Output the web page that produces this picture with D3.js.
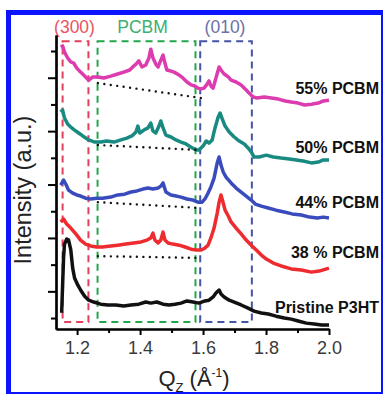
<!DOCTYPE html>
<html>
<head>
<meta charset="utf-8">
<script src="https://cdn.jsdelivr.net/npm/d3@7"></script>
<style>
  body { margin: 0; background: #fff; }
  svg { display: block; font-family: "Liberation Sans", Arial, sans-serif; }
</style>
</head>
<body>
<svg width="383" height="395"></svg>
<script>
// ---- data: [Qz (1/A), intensity (a.u., offset per sample)]
const pcbm55 = [
  [1.148, 10.15], [1.154, 10.19], [1.160, 9.96], [1.170, 9.74], [1.180, 9.59], [1.189, 9.55],
  [1.199, 9.36], [1.211, 9.21], [1.224, 9.06], [1.237, 8.91], [1.250, 9.03], [1.266, 9.03],
  [1.285, 8.99], [1.307, 9.06], [1.329, 9.14], [1.348, 9.21], [1.367, 9.29], [1.380, 9.44],
  [1.387, 9.51], [1.396, 9.63], [1.406, 9.40], [1.418, 9.48], [1.428, 9.74], [1.434, 10.07],
  [1.441, 9.74], [1.450, 9.51], [1.457, 9.40], [1.466, 9.66], [1.473, 9.85], [1.479, 9.55],
  [1.485, 9.29], [1.498, 9.25], [1.508, 9.21], [1.524, 9.10], [1.536, 8.99], [1.549, 8.84],
  [1.562, 8.73], [1.574, 8.69], [1.584, 8.61], [1.594, 8.58], [1.603, 8.61], [1.613, 8.76],
  [1.619, 8.88], [1.625, 8.69], [1.632, 8.61], [1.641, 8.99], [1.651, 9.40], [1.657, 9.29],
  [1.667, 9.14], [1.680, 9.03], [1.689, 8.91], [1.705, 8.84], [1.721, 8.73], [1.737, 8.54],
  [1.746, 8.43], [1.759, 8.28], [1.772, 8.24], [1.794, 8.28], [1.817, 8.24], [1.839, 8.20],
  [1.861, 8.13], [1.880, 8.09], [1.902, 8.05], [1.922, 7.98], [1.944, 8.01], [1.966, 8.05],
  [1.982, 8.13], [2.000, 8.16]
];
const pcbm50 = [
  [1.148, 7.72], [1.154, 7.79], [1.160, 7.49], [1.170, 7.27], [1.180, 7.15], [1.192, 7.04],
  [1.205, 6.93], [1.218, 6.82], [1.237, 6.67], [1.256, 6.59], [1.275, 6.59], [1.294, 6.63],
  [1.317, 6.59], [1.339, 6.67], [1.358, 6.74], [1.374, 6.82], [1.387, 6.97], [1.393, 7.19],
  [1.399, 6.93], [1.412, 7.04], [1.425, 7.12], [1.434, 7.30], [1.441, 7.00], [1.450, 6.93],
  [1.460, 7.19], [1.466, 7.38], [1.473, 7.12], [1.482, 6.85], [1.498, 6.78], [1.514, 6.67],
  [1.530, 6.59], [1.546, 6.52], [1.562, 6.40], [1.578, 6.29], [1.587, 6.29], [1.600, 6.44],
  [1.610, 6.63], [1.619, 6.55], [1.629, 6.67], [1.638, 7.12], [1.648, 7.53], [1.654, 7.68],
  [1.660, 7.49], [1.670, 7.19], [1.683, 6.97], [1.699, 6.78], [1.715, 6.63], [1.731, 6.52],
  [1.743, 6.37], [1.753, 6.22], [1.762, 6.03], [1.778, 6.03], [1.801, 6.10], [1.823, 6.03],
  [1.848, 5.99], [1.874, 5.96], [1.896, 5.92], [1.918, 5.88], [1.944, 5.81], [1.966, 5.84],
  [1.982, 5.92], [2.000, 5.92]
];
const pcbm44 = [
  [1.148, 4.98], [1.157, 5.17], [1.164, 5.02], [1.173, 4.79], [1.186, 4.68], [1.199, 4.61],
  [1.211, 4.57], [1.227, 4.49], [1.243, 4.46], [1.262, 4.49], [1.281, 4.49], [1.307, 4.53],
  [1.329, 4.61], [1.351, 4.64], [1.371, 4.72], [1.390, 4.76], [1.409, 4.83], [1.425, 4.87],
  [1.441, 4.83], [1.457, 4.87], [1.466, 4.94], [1.473, 5.06], [1.482, 4.72], [1.498, 4.61],
  [1.514, 4.57], [1.530, 4.53], [1.549, 4.46], [1.568, 4.42], [1.584, 4.34], [1.597, 4.34],
  [1.606, 4.46], [1.616, 4.68], [1.625, 4.91], [1.635, 5.24], [1.645, 5.81], [1.651, 6.03],
  [1.657, 5.73], [1.664, 5.47], [1.673, 5.28], [1.689, 5.06], [1.705, 4.87], [1.721, 4.72],
  [1.737, 4.57], [1.753, 4.42], [1.766, 4.27], [1.785, 4.19], [1.807, 4.12], [1.832, 4.04],
  [1.858, 3.97], [1.883, 3.90], [1.912, 3.86], [1.938, 3.78], [1.963, 3.75], [1.982, 3.78],
  [2.000, 3.75]
];
const pcbm38 = [
  [1.148, 3.60], [1.157, 3.71], [1.167, 3.52], [1.180, 3.37], [1.196, 3.15], [1.211, 2.92],
  [1.227, 2.77], [1.243, 2.70], [1.262, 2.66], [1.281, 2.66], [1.307, 2.70], [1.329, 2.73],
  [1.355, 2.77], [1.380, 2.81], [1.403, 2.85], [1.422, 2.92], [1.434, 3.00], [1.441, 3.18],
  [1.447, 2.92], [1.457, 2.81], [1.466, 2.92], [1.473, 3.22], [1.479, 2.92], [1.489, 2.81],
  [1.504, 2.77], [1.524, 2.73], [1.543, 2.66], [1.562, 2.58], [1.578, 2.55], [1.594, 2.55],
  [1.606, 2.62], [1.616, 2.73], [1.625, 3.00], [1.635, 3.37], [1.645, 3.93], [1.651, 4.34],
  [1.657, 4.61], [1.664, 4.31], [1.670, 4.04], [1.680, 3.82], [1.689, 3.60], [1.705, 3.37],
  [1.721, 3.15], [1.737, 2.92], [1.753, 2.73], [1.769, 2.55], [1.785, 2.36], [1.801, 2.21],
  [1.823, 2.06], [1.848, 1.95], [1.880, 1.84], [1.912, 1.80], [1.944, 1.72], [1.969, 1.76],
  [2.000, 1.87]
];
const pristine = [
  [1.151, 0.20], [1.154, 1.24], [1.157, 2.25], [1.160, 2.77], [1.167, 2.96], [1.173, 2.92],
  [1.180, 2.55], [1.186, 1.87], [1.192, 1.50], [1.202, 1.24], [1.211, 1.05], [1.224, 0.82],
  [1.237, 0.67], [1.253, 0.60], [1.275, 0.52], [1.297, 0.49], [1.323, 0.49], [1.348, 0.45],
  [1.371, 0.49], [1.396, 0.52], [1.418, 0.60], [1.434, 0.56], [1.453, 0.60], [1.473, 0.52],
  [1.492, 0.49], [1.511, 0.52], [1.530, 0.56], [1.549, 0.64], [1.568, 0.60], [1.587, 0.56],
  [1.606, 0.64], [1.619, 0.67], [1.632, 0.79], [1.641, 0.94], [1.651, 1.05], [1.657, 0.90],
  [1.667, 0.79], [1.683, 0.67], [1.699, 0.60], [1.721, 0.49], [1.743, 0.37], [1.762, 0.26],
  [1.785, 0.19], [1.807, 0.15], [1.832, 0.07], [1.858, 0.00], [1.880, -0.04], [1.902, -0.11],
  [1.928, -0.19], [1.953, -0.22], [1.976, -0.26], [2.000, -0.26]
];

// PCBM background guide lines (dotted), [start, end]
const baseline55 = [[1.266, 8.80], [1.594, 8.24]];
const baseline50 = [[1.266, 6.48], [1.594, 6.29]];
const baseline44 = [[1.266, 4.34], [1.594, 4.12]];
const baseline38 = [[1.266, 2.32], [1.594, 2.25]];

const seriesNames = ['55% PCBM', '50% PCBM', '44% PCBM', '38 % PCBM', 'Pristine P3HT'];
const labelLevels = [8.39, 6.18, 4.12, 2.25, 0.19];

const regionNames = ['(300)', 'PCBM', '(010)'];
const regionBounds = [[1.154, 1.236], [1.265, 1.576], [1.591, 1.755]];
const regionTop = 10.37, regionBottom = -0.15;

const xMajorTicks = [1.2, 1.4, 1.6, 1.8, 2.0];
const xMinorTicks = [1.3, 1.5, 1.7, 1.9];
const yMajorTicks = [1, 3, 5, 7, 9];
const yMinorTicks = [0, 2, 4, 6, 8, 10];

// ---- styles
const curveColors = ['#dd3caf', '#198a80', '#3a4cbd', '#ee2b2e', '#111111'];
const regionColors = ['#e2405c', '#22a64c', '#4454a6'];
const regionTextColors = ['#e8545e', '#3cb070', '#6b70a8'];

const svg = d3.select('svg');

// frame
svg.append('rect').attr('x', 6).attr('y', 10).attr('width', 377).attr('height', 384).attr('fill', '#0a14ff');
svg.append('rect').attr('x', 11).attr('y', 15).attr('width', 370).attr('height', 377).attr('fill', '#fff');

const x = d3.scaleLinear().domain([1.133, 2.0]).range([56, 329]);
const y = d3.scaleLinear().domain([-0.41, 10.6]).range([329, 35]);

/* dashed region boxes */
regionBounds.forEach((b, i) => {
  svg.append('rect')
    .attr('x', x(b[0])).attr('y', y(regionTop))
    .attr('width', x(b[1]) - x(b[0])).attr('height', y(regionBottom) - y(regionTop))
    .attr('fill', 'none')
    .attr('stroke', regionColors[i])
    .attr('stroke-width', 2)
    .attr('stroke-dasharray', '7 5');
  svg.append('text')
    .attr('x', (x(b[0]) + x(b[1])) / 2 + (i === 1 ? -4 : -1))
    .attr('y', 33)
    .attr('text-anchor', 'middle')
    .attr('font-size', 17.5)
    .attr('fill', regionTextColors[i])
    .text(regionNames[i]);
});

/* curves */
const line = d3.line().x(d => x(d[0])).y(d => y(d[1]));
[pcbm55, pcbm50, pcbm44, pcbm38, pristine].forEach((s, i) => {
  svg.append('path')
    .datum(s)
    .attr('d', line)
    .attr('fill', 'none')
    .attr('stroke', curveColors[i])
    .attr('stroke-width', 3.5)
    .attr('stroke-linejoin', 'round');
});

/* dotted baselines */
[baseline55, baseline50, baseline44, baseline38].forEach(b => {
  svg.append('path')
    .datum(b)
    .attr('d', line)
    .attr('stroke', '#111')
    .attr('stroke-width', 2.4)
    .attr('stroke-linecap', 'round')
    .attr('stroke-dasharray', '0 6.5');
});

/* series labels */
seriesNames.forEach((name, i) => {
  svg.append('text')
    .attr('x', 379)
    .attr('y', y(labelLevels[i]))
    .attr('text-anchor', 'end')
    .attr('font-size', 16)
    .attr('font-weight', 'bold')
    .attr('fill', '#111')
    .text(name);
});

/* axes */
const xAxis = svg.append('g').attr('transform', `translate(0, ${y(-0.41)})`)
  .call(d3.axisBottom(x).tickValues(xMajorTicks).tickFormat(d3.format('.1f')).tickSize(6).tickSizeOuter(0).tickPadding(6));
svg.append('g').attr('transform', `translate(0, ${y(-0.41)})`)
  .call(d3.axisBottom(x).tickValues(xMinorTicks).tickFormat('').tickSize(4).tickSizeOuter(0));

const yAxis = svg.append('g').attr('transform', `translate(${x(1.133)}, 0)`)
  .call(d3.axisLeft(y).tickValues(yMajorTicks).tickFormat('').tickSize(8).tickSizeOuter(0));
svg.append('g').attr('transform', `translate(${x(1.133)}, 0)`)
  .call(d3.axisLeft(y).tickValues(yMinorTicks).tickFormat('').tickSize(5).tickSizeOuter(0));

svg.selectAll('.domain').attr('stroke', '#000').attr('stroke-width', 2.2);
svg.selectAll('.tick line').attr('stroke', '#000').attr('stroke-width', 2);
xAxis.selectAll('.tick text')
  .attr('font-size', 18)
  .attr('fill', '#3a3a3a')
  .attr('font-family', '"Liberation Sans", Arial, sans-serif');

/* axis titles */
svg.append('text')
  .attr('transform', 'translate(31, 190) rotate(-90)')
  .attr('text-anchor', 'middle')
  .attr('font-size', 23.5)
  .attr('fill', '#222')
  .text('Intensity (a.u.)');

const xt = svg.append('text')
  .attr('x', 194).attr('y', 386)
  .attr('text-anchor', 'middle')
  .attr('font-size', 22)
  .attr('fill', '#222');
xt.append('tspan').text('Q');
xt.append('tspan').attr('font-size', 13).attr('dy', 6).text('Z');
xt.append('tspan').attr('dy', -6).text(' (Å');
xt.append('tspan').attr('font-size', 12).attr('dy', -9).text('-1');
xt.append('tspan').attr('dy', 9).text(')');
</script>
</body>
</html>
